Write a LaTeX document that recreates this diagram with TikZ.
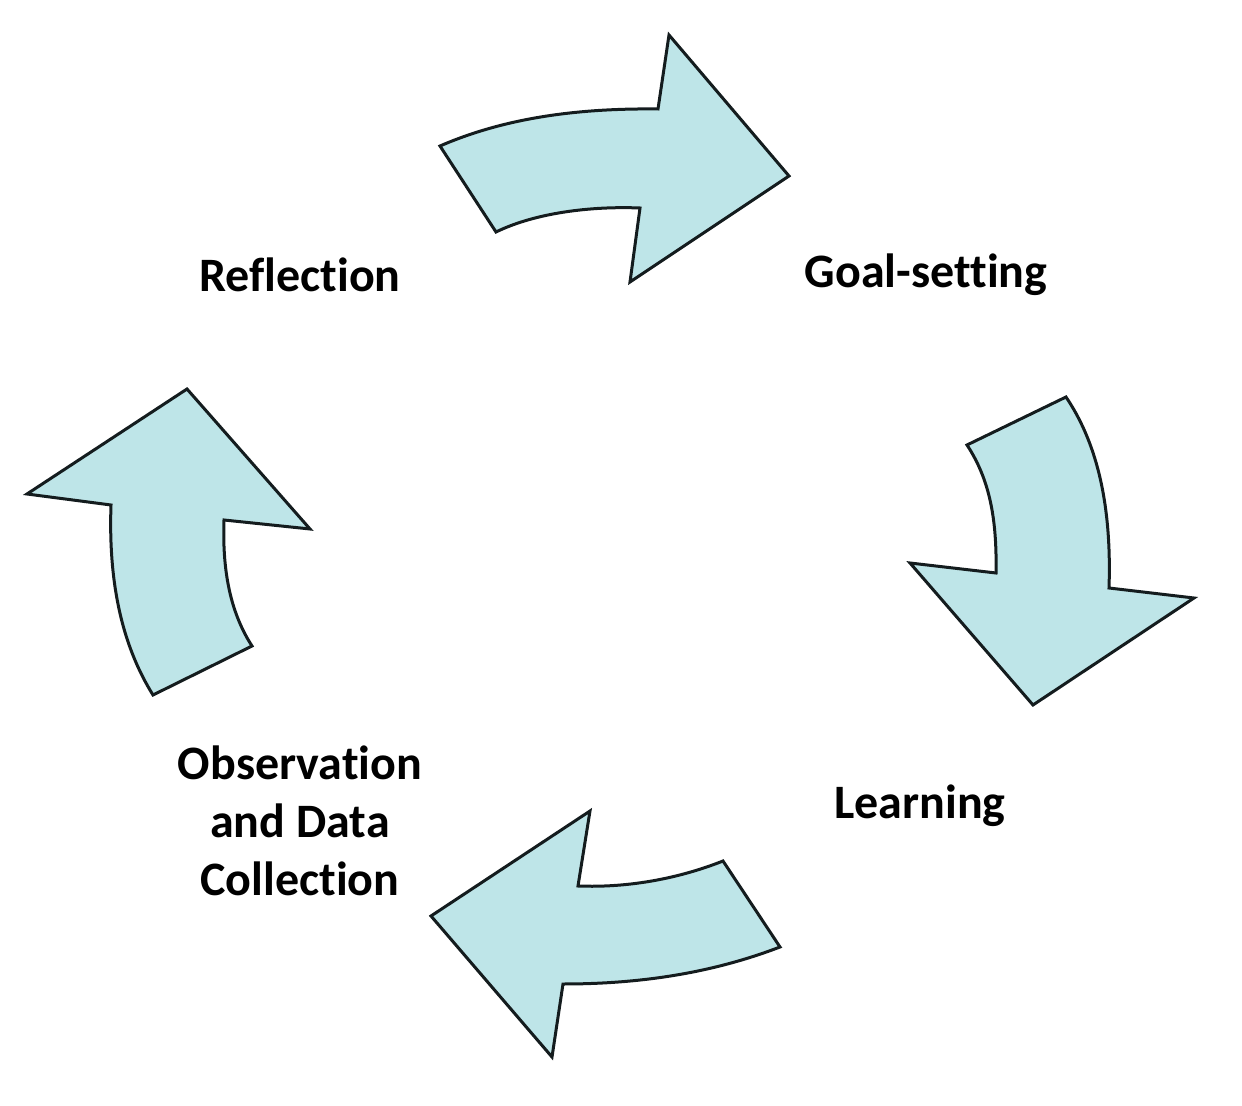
\documentclass[tikz,border=0pt]{standalone}
\usepackage{fontspec}
\setmainfont[Ligatures=NoCommon]{Carlito}
\definecolor{arrowfill}{HTML}{BEE5E8}
\definecolor{arrowline}{HTML}{141C1E}
\begin{document}
\begin{tikzpicture}[x=0.5pt,y=-0.5pt,
  bigarrow/.style={fill=arrowfill,draw=arrowline,line width=1.5pt,line join=miter},
  lbl/.style={font=\fontsize{24}{29}\selectfont\bfseries,align=center,inner sep=0pt}]
\useasboundingbox (0,0) rectangle (1242,1106);
% top arrow (Reflection -> Goal-setting)
\filldraw[bigarrow] (440,146) .. controls (500,120) and (570,108) .. (658,109)
  -- (669,35) -- (789,176) -- (630,282) -- (640,208)
  .. controls (590,206) and (535,213) .. (496,232) -- cycle;
% right arrow (Goal-setting -> Learning)
\filldraw[bigarrow] (967,445) -- (1066,397) .. controls (1095,440) and (1112,500) .. (1109,588)
  -- (1194,598) -- (1033,705) -- (910,563) -- (996,573)
  .. controls (997,520) and (990,480) .. (967,445) -- cycle;
% bottom arrow (Learning -> Observation)
\filldraw[bigarrow] (431,916) -- (590,811) -- (578,886)
  .. controls (630,888) and (680,878) .. (723,861) -- (780,947)
  .. controls (720,970) and (650,984) .. (563,984) -- (552,1057) -- cycle;
% left arrow (Observation -> Reflection)
\filldraw[bigarrow] (187,389) -- (310,529) -- (224,520)
  .. controls (222,575) and (232,615) .. (252,646) -- (153,695)
  .. controls (125,650) and (108,590) .. (111,505) -- (27,494) -- cycle;
% labels
\node[lbl] (refl) at (300,275) {Reflection};
\node[lbl] (goal) at (926,275) {Goal-setting};
\node[lbl] (learn) at (920,806) {Learning};
\node[lbl] (obs) at (300,821) {Observation\\and Data\\Collection};
\end{tikzpicture}
\end{document}
